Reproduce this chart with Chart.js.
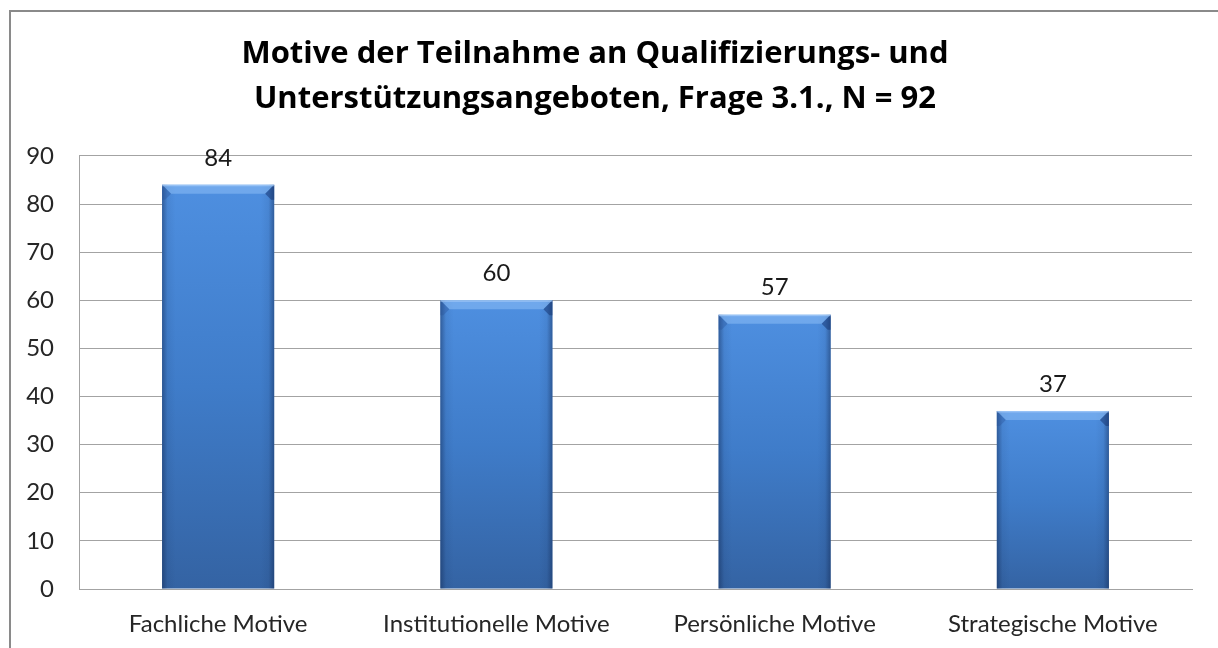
<!DOCTYPE html>
<html lang="de">
<head>
<meta charset="utf-8">
<title>Motive der Teilnahme</title>
<script src="https://cdn.jsdelivr.net/npm/chart.js@4/dist/chart.umd.min.js"></script>
<style>
  html, body { margin: 0; padding: 0; background: #fff; overflow: hidden; }
  #wrap { position: relative; width: 1218px; height: 648px; }
  #frame {
    position: absolute; left: 9px; top: 10px; width: 1230px; height: 660px;
    border: 2px solid #8a8a8a; box-sizing: border-box; pointer-events: none;
  }
  canvas { position: absolute; left: 0; top: 0; }
</style>
</head>
<body>
<div id="wrap">
  <canvas id="motiveChart" width="1218" height="648"></canvas>
  <div id="frame"></div>
</div>
<script>
const categories = ['Fachliche Motive', 'Institutionelle Motive', 'Persönliche Motive', 'Strategische Motive'];
const counts = [84, 60, 57, 37];
const titleLines = ['Motive der Teilnahme an Qualifizierungs- und', 'Unterstützungsangeboten, Frage 3.1., N = 92'];
const yMax = 90;
const yStep = 10;

const FONT = 'Lato, "Open Sans", sans-serif';
const TITLE_FONT = '"Open Sans", Lato, sans-serif';

// vertical blue gradient per bar, from its top down to the baseline
function barFill(ctx) {
  const chart = ctx.chart;
  if (!chart.chartArea) return '#3f7bc8';
  const y = chart.scales.y;
  const top = y.getPixelForValue(counts[ctx.dataIndex]);
  const bottom = y.getPixelForValue(0);
  const g = chart.ctx.createLinearGradient(0, top, 0, bottom);
  g.addColorStop(0, '#4e8fe0');
  g.addColorStop(0.5, '#3f7cc9');
  g.addColorStop(1, '#3463a3');
  return g;
}

// bevelled top and darker side edges on each bar
const bevel = {
  id: 'bevel',
  afterDatasetsDraw(chart) {
    const ctx = chart.ctx;
    chart.getDatasetMeta(0).data.forEach(bar => {
      const { x, y, width, base } = bar.getProps(['x', 'y', 'width', 'base'], true);
      const l = x - width / 2, r = x + width / 2, b = 9;
      ctx.save();
      const side = ctx.createLinearGradient(l, 0, r, 0);
      side.addColorStop(0, 'rgba(15,35,75,0.45)');
      side.addColorStop(0.05, 'rgba(15,35,75,0.08)');
      side.addColorStop(0.12, 'rgba(15,35,75,0)');
      side.addColorStop(0.88, 'rgba(15,35,75,0)');
      side.addColorStop(0.95, 'rgba(15,35,75,0.08)');
      side.addColorStop(1, 'rgba(15,35,75,0.45)');
      ctx.fillStyle = side;
      ctx.fillRect(l, y, width, base - y);
      // top face
      ctx.beginPath();
      ctx.moveTo(l, y);
      ctx.lineTo(r, y);
      ctx.lineTo(r - b, y + b);
      ctx.lineTo(l + b, y + b);
      ctx.closePath();
      ctx.fillStyle = 'rgba(140,190,245,0.55)';
      ctx.fill();
      // left and right bevel faces
      ctx.beginPath();
      ctx.moveTo(l, y); ctx.lineTo(l + b, y + b); ctx.lineTo(l + 3, y + b + 6); ctx.lineTo(l, y + b + 6);
      ctx.closePath();
      ctx.fillStyle = 'rgba(40,80,150,0.35)';
      ctx.fill();
      ctx.beginPath();
      ctx.moveTo(r, y); ctx.lineTo(r - b, y + b); ctx.lineTo(r - 3, y + b + 6); ctx.lineTo(r, y + b + 6);
      ctx.closePath();
      ctx.fillStyle = 'rgba(20,50,110,0.5)';
      ctx.fill();
      ctx.fillStyle = 'rgba(190,220,255,0.5)';
      ctx.fillRect(l, y, width, 1.5);
      ctx.restore();
    });
  }
};

// value labels above the bars
const valueLabels = {
  id: 'valueLabels',
  afterDatasetsDraw(chart) {
    const ctx = chart.ctx;
    ctx.save();
    ctx.font = '24px ' + FONT;
    ctx.fillStyle = '#1a1a1a';
    ctx.textAlign = 'center';
    ctx.textBaseline = 'middle';
    chart.getDatasetMeta(0).data.forEach((bar, i) => {
      ctx.fillText(String(counts[i]), bar.x, bar.y - 27);
    });
    ctx.restore();
  }
};

// title sits a little left of the canvas centre
const titleShift = {
  id: 'titleShift',
  afterLayout(chart) {
    if (chart.titleBlock) chart.titleBlock.right = chart.width - 28;
  }
};

new Chart(document.getElementById('motiveChart'), {
  type: 'bar',
  data: {
    labels: categories,
    datasets: [{
      data: counts,
      backgroundColor: barFill,
      borderWidth: 0,
      categoryPercentage: 1,
      barPercentage: 0.403
    }]
  },
  plugins: [bevel, valueLabels, titleShift],
  options: {
    responsive: false,
    animation: false,
    layout: { padding: { top: 0, right: 26, bottom: 0, left: 0 } },
    plugins: {
      legend: { display: false },
      tooltip: { enabled: false },
      title: {
        display: true,
        text: titleLines,
        color: '#000',
        font: { family: TITLE_FONT, size: 31, weight: 'bold', lineHeight: 1.45 },
        padding: { top: 32, bottom: 34 }
      }
    },
    scales: {
      y: {
        min: 0,
        max: yMax,
        ticks: { stepSize: yStep, padding: 25, color: '#262626', font: { family: FONT, size: 24 } },
        grid: { color: '#a3a3a3', drawTicks: false },
        border: { display: true, color: '#a3a3a3' },
        afterFit(scale) { scale.width = 79; }
      },
      x: {
        ticks: { padding: 21, color: '#262626', font: { family: FONT, size: 24 } },
        grid: { display: false, drawTicks: false },
        border: { display: true, color: '#a3a3a3' },
        afterFit(scale) { scale.height = 59; }
      }
    }
  }
});
</script>
</body>
</html>
